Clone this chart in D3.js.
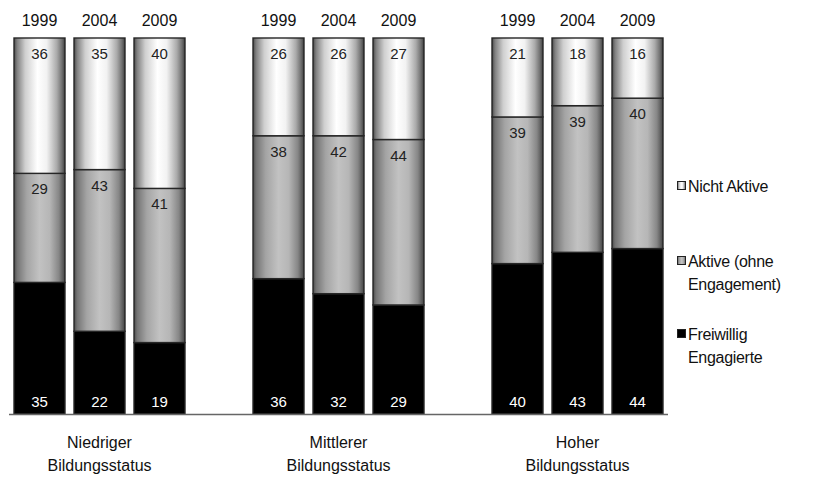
<!DOCTYPE html>
<html>
<head>
<meta charset="utf-8">
<script src="https://cdn.jsdelivr.net/npm/d3@7"></script>
<style>
  html, body { margin: 0; padding: 0; background: #fff; }
  svg { display: block; font-family: "Liberation Sans", Arial, sans-serif; }
</style>
</head>
<body>
<svg id="chart" width="816" height="483"></svg>
<script>
// Engagement shares (%) by education level and survey year
const groups = ["Niedriger Bildungsstatus", "Mittlerer Bildungsstatus", "Hoher Bildungsstatus"];
const groupLines = [["Niedriger", "Bildungsstatus"], ["Mittlerer", "Bildungsstatus"], ["Hoher", "Bildungsstatus"]];
const years = ["1999", "2004", "2009"];
const seriesKeys = ["freiwillig", "aktiv", "nicht"];
const freiwillig = [35, 22, 19, 36, 32, 29, 40, 43, 44];
const aktiv      = [29, 43, 41, 38, 42, 44, 39, 39, 40];
const nicht      = [36, 35, 40, 26, 26, 27, 21, 18, 16];
const legendLabels = [["Nicht Aktive"], ["Aktive (ohne", "Engagement)"], ["Freiwillig", "Engagierte"]];

const rows = [];
groups.forEach((g, gi) => years.forEach((y, yi) => {
  const i = gi * 3 + yi;
  rows.push({ group: g, year: y, freiwillig: freiwillig[i], aktiv: aktiv[i], nicht: nicht[i] });
}));

const svg = d3.select("#chart");
const defs = svg.append("defs");

function hGrad(id, stops) {
  const g = defs.append("linearGradient").attr("id", id)
    .attr("x1", "0%").attr("x2", "100%").attr("y1", "0%").attr("y2", "0%");
  stops.forEach(([o, c]) => g.append("stop").attr("offset", o).attr("stop-color", c));
}
hGrad("gWhite", [["0%", "#4a4a4a"], ["6%", "#808080"], ["22%", "#cfcfcf"], ["46%", "#ffffff"], ["64%", "#f2f2f2"], ["84%", "#aaaaaa"], ["94%", "#707070"], ["100%", "#404040"]]);
hGrad("gGray", [["0%", "#4a4a4a"], ["6%", "#747474"], ["25%", "#a4a4a4"], ["50%", "#c2c2c2"], ["70%", "#b6b6b6"], ["88%", "#868686"], ["100%", "#444"]]);

const fills = { freiwillig: "#000", aktiv: "url(#gGray)", nicht: "url(#gWhite)" };

// Layout
const yTop = 38, yBase = 414;
const y = d3.scaleLinear().domain([0, 100]).range([yBase, yTop]);
const x0 = d3.scaleBand().domain(groups).range([14, 663]).paddingInner(68 / 239).paddingOuter(0);
const x1 = d3.scaleBand().domain(years).range([0, x0.bandwidth()]).paddingInner(0.15).paddingOuter(0);

const stack = d3.stack().keys(seriesKeys)(rows);

const gBars = svg.append("g");
stack.forEach(layer => {
  gBars.selectAll(null).data(layer).enter().append("rect")
    .attr("x", d => x0(d.data.group) + x1(d.data.year))
    .attr("width", x1.bandwidth())
    .attr("y", d => y(d[1]))
    .attr("height", d => y(d[0]) - y(d[1]))
    .attr("fill", fills[layer.key])
    .attr("stroke", "#262626")
    .attr("stroke-width", 1.4);
});

// Value labels
const labelG = svg.append("g").attr("font-size", 15).attr("text-anchor", "middle");
stack.forEach(layer => {
  labelG.selectAll(null).data(layer).enter().append("text")
    .attr("x", d => x0(d.data.group) + x1(d.data.year) + x1.bandwidth() / 2)
    .attr("y", d => layer.key === "freiwillig" ? yBase - 7 : y(d[1]) + 21)
    .attr("fill", layer.key === "freiwillig" ? "#fff" : "#222")
    .text(d => d.data[layer.key]);
});

// Baseline
svg.append("line").attr("x1", 9).attr("x2", 668).attr("y1", yBase + 0.5).attr("y2", yBase + 0.5)
  .attr("stroke", "#666").attr("stroke-width", 1.5);

// Year labels above the bars
groups.forEach(g => {
  svg.append("g").selectAll(null).data(years).enter().append("text")
    .attr("x", yr => x0(g) + x1(yr) + x1.bandwidth() / 2)
    .attr("y", 26).attr("text-anchor", "middle").attr("font-size", 16).attr("fill", "#111")
    .text(yr => yr);
});

// Group labels
groups.forEach((g, gi) => {
  const cx = x0(g) + x0.bandwidth() / 2;
  const t = svg.append("text").attr("x", cx).attr("y", 448)
    .attr("text-anchor", "middle").attr("font-size", 16).attr("fill", "#111");
  groupLines[gi].forEach((ln, li) => t.append("tspan").attr("x", cx).attr("dy", li ? 23 : 0).text(ln));
});

// Legend
const legendY = [192, 267, 340];
const legendFill = ["url(#gWhite)", "url(#gGray)", "#000"];
legendLabels.forEach((lines, i) => {
  const lg = svg.append("g").attr("transform", `translate(677,${legendY[i]})`);
  lg.append("rect").attr("x", 0.5).attr("y", -10.5).attr("width", 8).attr("height", 8)
    .attr("fill", legendFill[i]).attr("stroke", "#222").attr("stroke-width", 1);
  const t = lg.append("text").attr("x", 11).attr("y", 0).attr("font-size", 16).attr("fill", "#111")
    .attr("letter-spacing", -0.3);
  lines.forEach((ln, li) => t.append("tspan").attr("x", 11).attr("dy", li ? 23 : 0).text(ln));
});
</script>
</body>
</html>
